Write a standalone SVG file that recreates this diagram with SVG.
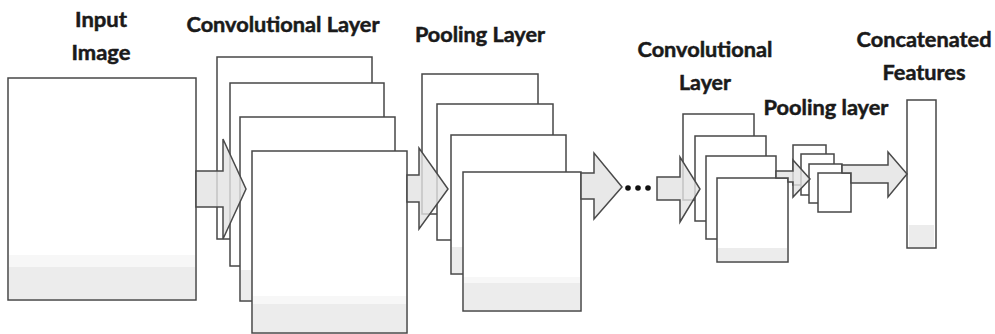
<svg xmlns="http://www.w3.org/2000/svg" width="995" height="334" viewBox="0 0 995 334">
<style>
.fm{fill:#fff;stroke:#474747;stroke-width:1.5}
.band{fill:#ececec}
.band2{fill:#f7f7f7}
.lbl{font-family:Lato,"Open Sans","Liberation Sans",sans-serif;font-weight:bold;font-size:21px;fill:#1a1a1a;stroke:#1a1a1a;stroke-width:0.5;text-anchor:middle}
.arr{fill:#e2e2e2;fill-opacity:0.8;stroke:#4a4a4a;stroke-width:1.5;stroke-linejoin:miter}
.dot{fill:#111}
</style>
<rect width="995" height="334" fill="#fff"/>

<g id="input-image">
<rect class="fm" x="8" y="78" width="188" height="222"/>
<rect class="band2" x="9" y="255" width="186" height="12"/>
<rect class="band" x="9" y="267" width="186" height="32"/>
<text class="lbl" x="101" y="27" textLength="52" lengthAdjust="spacingAndGlyphs">Input</text>
<text class="lbl" x="101" y="60" textLength="59" lengthAdjust="spacingAndGlyphs">Image</text>
</g>

<g id="conv-layer-1">
<rect class="fm" x="217" y="57" width="155" height="182"/>
<rect class="fm" x="230" y="83" width="154" height="183"/>
<rect class="fm" x="240" y="117" width="155" height="184"/>
<rect class="band" x="241" y="270" width="11" height="30"/>
<rect class="fm" x="252" y="151" width="155" height="182"/>
<rect class="band2" x="253" y="296" width="153" height="8"/>
<rect class="band" x="253" y="304" width="153" height="28"/>
<text class="lbl" x="283" y="32" textLength="193" lengthAdjust="spacingAndGlyphs">Convolutional Layer</text>
</g>

<g id="pooling-layer-1">
<rect class="fm" x="422" y="74" width="116" height="140"/>
<rect class="fm" x="437" y="104" width="116" height="136"/>
<rect class="fm" x="451" y="135" width="115" height="139"/>
<rect class="band" x="452" y="247" width="11" height="26"/>
<rect class="fm" x="463" y="172" width="118" height="139"/>
<rect class="band2" x="464" y="277" width="116" height="6"/>
<rect class="band" x="464" y="283" width="116" height="27"/>
<text class="lbl" x="480" y="42" textLength="130" lengthAdjust="spacingAndGlyphs">Pooling Layer</text>
</g>

<g id="conv-layer-2">
<rect class="fm" x="683" y="114" width="71" height="86"/>
<rect class="fm" x="695" y="136" width="71" height="85"/>
<rect class="fm" x="706" y="156" width="70" height="83"/>
<rect class="fm" x="717" y="178" width="71" height="84"/>
<rect class="band" x="718" y="248" width="69" height="13"/>
<text class="lbl" x="705" y="57" textLength="135" lengthAdjust="spacingAndGlyphs">Convolutional</text>
<text class="lbl" x="705" y="90" textLength="52" lengthAdjust="spacingAndGlyphs">Layer</text>
</g>

<g id="pooling-layer-2">
<rect class="fm" x="793" y="145" width="33" height="40"/>
<rect class="fm" x="801" y="154" width="33" height="41"/>
<rect class="fm" x="809" y="164" width="33" height="39"/>
<rect class="fm" x="818" y="173" width="33" height="39"/>
<text class="lbl" x="826" y="115" textLength="125" lengthAdjust="spacingAndGlyphs">Pooling layer</text>
</g>

<g id="concatenated-features">
<rect class="fm" x="907" y="100" width="29" height="148"/>
<rect class="band" x="909" y="225" width="25" height="22"/>
<text class="lbl" x="924" y="47" textLength="135" lengthAdjust="spacingAndGlyphs">Concatenated</text>
<text class="lbl" x="924" y="80" textLength="83" lengthAdjust="spacingAndGlyphs">Features</text>
</g>

<g id="connectors">
<polygon class="arr" points="196,171 223,171 223,139 246,189 223,239 223,207 196,207"/>
<polygon class="arr" points="407,175 419,175 419,148 448,189 419,229 419,202 407,202"/>
<polygon class="arr" points="581,173 594,173 594,153 622,187 594,219 594,199 581,199"/>
<circle class="dot" cx="628" cy="188" r="2.8"/>
<circle class="dot" cx="638" cy="188" r="2.8"/>
<circle class="dot" cx="648" cy="188" r="2.8"/>
<polygon class="arr" points="657,177 680,177 680,157 700,189 680,222 680,200 657,200"/>
<polygon class="arr" points="776,171 793,171 793,160 810,179 793,197 793,182 788,182 788,178 776,178"/>
<polygon class="arr" points="842,165 888,165 888,152 907,174 888,197 888,183 851,183 851,173 842,173"/>
</g>
</svg>
